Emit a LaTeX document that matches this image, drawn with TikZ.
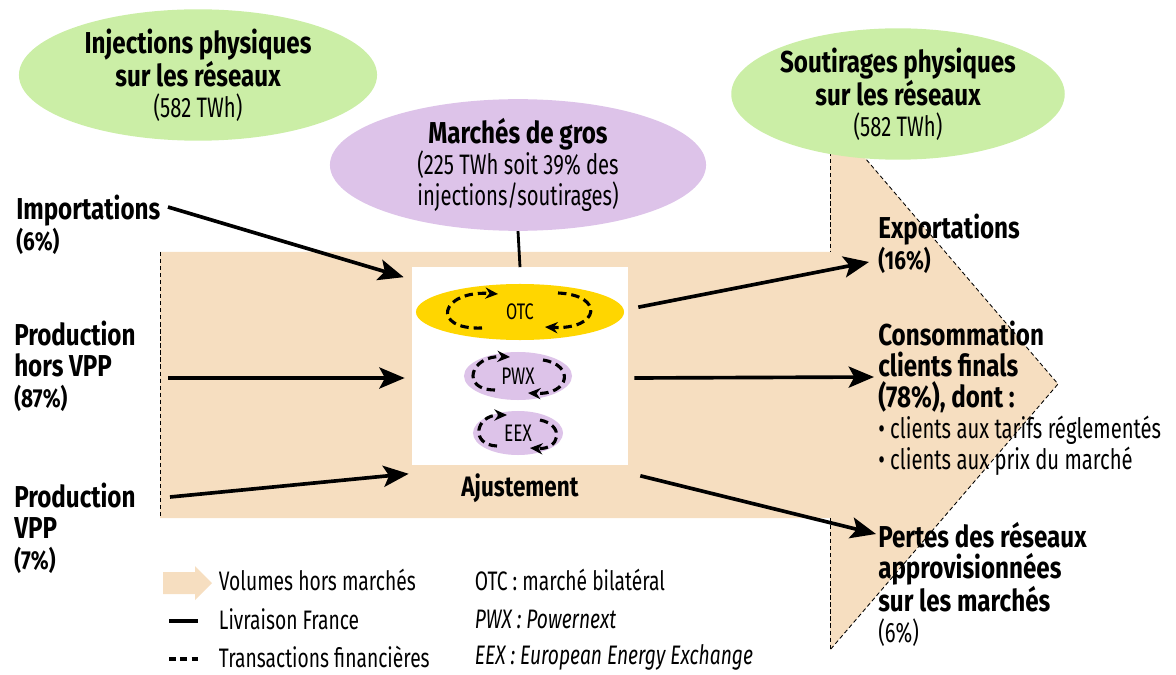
\documentclass[tikz,border=0pt]{standalone}
\usepackage{fontspec}
\setmainfont{Fira Sans}[UprightFeatures={FakeStretch=0.72},BoldFeatures={FakeStretch=0.8},ItalicFeatures={FakeStretch=0.72}]
\usetikzlibrary{arrows.meta, shapes.geometric, positioning, calc}
\definecolor{Flux_Beige}{HTML}{F6DEC0}
\definecolor{Flux_Green}{HTML}{CBEEA6}
\definecolor{Flux_Purple}{HTML}{DDC3E9}
\definecolor{Flux_Yellow}{HTML}{FFD600}
\newcommand{\hdfont}{\fontsize{21.5}{22}\selectfont\bfseries}
\newcommand{\pcfont}{\fontsize{18.5}{22}\selectfont\bfseries}
\newcommand{\txfont}{\fontsize{20}{22}\selectfont\mdseries}
\newcommand{\lgfont}{\fontsize{19}{22}\selectfont\mdseries}

\begin{document}
\begin{tikzpicture}[
    x=0.025cm, y=-0.025cm,
    bubble/.style={ellipse, inner sep=0pt, align=center, font=\hdfont},
    lbl/.style={anchor=north west, align=left, inner sep=0pt, font=\hdfont},
    flow/.style={-{Stealth[length=18pt, width=15pt, inset=4pt]}, line width=2.6pt},
    swirl/.style={-{Stealth[length=9pt, width=8pt]}, line width=2.2pt, dash pattern=on 6pt off 3.5pt},
    border/.style={line width=0.6pt, dash pattern=on 3pt off 2pt}
]
\useasboundingbox (0,0) rectangle (1176,675);

% volumes hors marches
\fill[Flux_Beige] (160,252) -- (830,252) -- (830,117) -- (1058,384) -- (830,650) -- (830,518) -- (160,518) -- cycle;
\draw[border] (160,252) -- (160,518);
\draw[border] (830,117) -- (830,252);
\draw[border] (830,518) -- (830,650);
\draw[border] (830,117) -- (1058,384) -- (830,650);

% bulles
\node[bubble, fill=Flux_Green, minimum width=8.95cm, minimum height=3cm] (inj) at (198,75)
    {\hdfont Injections physiques\\\hdfont sur les réseaux\\\txfont (582 TWh)};
\node[bubble, fill=Flux_Green, minimum width=7.7cm, minimum height=2.9cm] (sout) at (898,94)
    {\hdfont Soutirages physiques\\\hdfont sur les réseaux\\\txfont (582 TWh)};
\node[bubble, fill=Flux_Purple, minimum width=9.4cm, minimum height=3cm] (gros) at (518,165)
    {\hdfont Marchés de gros\\\txfont (225 TWh soit 39\% des\\\txfont injections/soutirages)};

% marches
\node[fill=white, minimum width=5.4cm, minimum height=4.925cm] (mkt) at (520,366) {};
\draw[line width=2pt] (gros.south) -- (mkt.north);
\node[bubble, fill=Flux_Yellow, minimum width=5.2cm, minimum height=1.4cm, font=\fontsize{16}{18}\selectfont] (otc) at (520,312) {OTC};
\node[bubble, fill=Flux_Purple, minimum width=2.7cm, minimum height=1.2cm, font=\fontsize{17}{18}\selectfont] (pwx) at (518,376) {PWX};
\node[bubble, fill=Flux_Purple, minimum width=2.25cm, minimum height=1.1cm, font=\fontsize{17}{18}\selectfont] (eex) at (518,433) {EEX};
\node[font=\fontsize{20}{22}\selectfont\bfseries] (ajust) at (520,488) {Ajustement};

% transactions financieres
\draw[swirl] (482,328) .. controls (430,330) and (440,290) .. (498,294);
\draw[swirl] (558,293) .. controls (605,295) and (600,330) .. (545,327);
\draw[swirl] (495,390) .. controls (460,390) and (470,355) .. (510,357);
\draw[swirl] (543,360) .. controls (575,365) and (570,395) .. (528,393);
\draw[swirl] (497,446) .. controls (470,445) and (475,415) .. (507,415);
\draw[swirl] (540,420) .. controls (565,425) and (560,450) .. (530,448);

% injections
\node[lbl] (imp) at (16,195) {\hdfont Importations\\\pcfont (6\%)};
\node[lbl] (hvpp) at (14,321) {\hdfont Production\\\hdfont hors VPP\\\pcfont (87\%)};
\node[lbl] (vpp) at (14,483) {\hdfont Production\\\hdfont VPP\\\pcfont (7\%)};
\coordinate (imp-out) at (168,207);
\coordinate (hvpp-out) at (168,378);
\coordinate (vpp-out) at (170,497);
\draw[flow] (imp-out) -- ($(mkt.north west)+(-8,10)$);
\draw[flow] (hvpp-out) -- ($(mkt.west)+(-7,12)$);
\draw[flow] (vpp-out) -- ($(mkt.south west)+(-3,9)$);

% soutirages
\node[lbl] (exp) at (878,214) {\hdfont Exportations\\\pcfont (16\%)};
\node[lbl] (cons) at (878,321) {\hdfont Consommation\\\hdfont clients finals\\\hdfont (78\%), dont :\\\txfont • clients aux tarifs réglementés\\\txfont • clients aux prix du marché};
\node[lbl] (pert) at (878,522) {\hdfont Pertes des réseaux\\\hdfont approvisionnées\\\hdfont sur les marchés\\\txfont (6\%)};
\coordinate (exp-in) at (869,262);
\coordinate (cons-in) at (874,377);
\coordinate (pert-in) at (876,534);
\draw[flow] ($(mkt.north east)+(10,40)$) -- (exp-in);
\draw[flow] ($(mkt.east)+(6,12)$) -- (cons-in);
\draw[flow] ($(mkt.south east)+(12,11)$) -- (pert-in);

% legende
\fill[Flux_Beige] (163,572) -- (195,572) -- (195,566) -- (212,583) -- (195,600) -- (195,594) -- (163,594) -- cycle;
\draw[line width=2.4pt] (169,621) -- (198,621);
\draw[line width=2.4pt, dash pattern=on 5pt off 3pt] (169,659) -- (198,659);
\node[anchor=west, font=\lgfont] (leg-vol) at (214,580) {Volumes hors marchés};
\node[anchor=west, font=\lgfont] (leg-liv) at (214,619) {Livraison France};
\node[anchor=west, font=\lgfont] (leg-fin) at (214,657) {Transactions financières};
\node[anchor=west, font=\lgfont] (leg-otc) at (470,580) {OTC : marché bilatéral};
\node[anchor=west, font=\lgfont\itshape] (leg-pwx) at (470,619) {PWX : Powernext};
\node[anchor=west, font=\lgfont\itshape] (leg-eex) at (470,657) {EEX : European Energy Exchange};
\end{tikzpicture}
\end{document}
